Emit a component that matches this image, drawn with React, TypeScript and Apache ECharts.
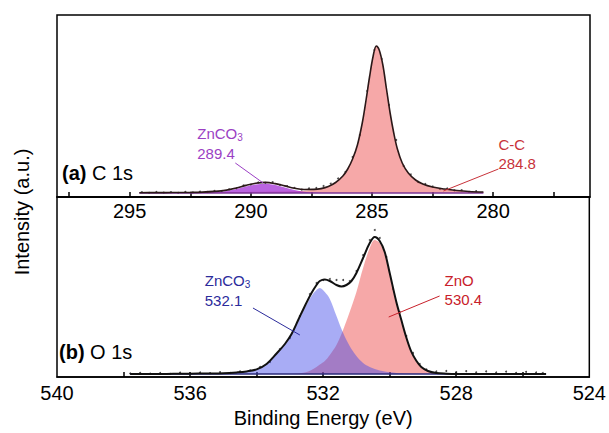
import React, { useEffect, useRef } from "react";
import * as echarts from "echarts";

// ---------- C 1s (panel a) ----------
const topE = [294.6, 294, 293.5, 293, 292.5, 292, 291.5, 291, 290.6, 290.2, 289.8, 289.4, 289.0, 288.6, 288.2, 287.8, 287.4, 287.1, 286.8, 286.5, 286.2, 286.0, 285.8, 285.6, 285.4, 285.25, 285.1, 284.95, 284.82, 284.7, 284.55, 284.4, 284.25, 284.1, 283.95, 283.75, 283.5, 283.2, 282.9, 282.5, 282, 281.5, 281, 280.4];
const topCC = [0.3, 0.4, 0.4, 0.5, 0.6, 0.7, 0.8, 0.9, 1, 1.1, 1.2, 1.3, 1.4, 1.6, 1.8, 2.3, 3.2, 4.3, 6.5, 10.5, 17, 24, 34, 48, 70, 92, 116, 137, 147, 143, 128, 104, 80, 60, 44, 30, 20, 13, 9, 6, 4, 2.5, 1.5, 1];
const topZnCO3 = [0, 0, 0, 0, 0, 0.2, 0.8, 2, 4, 6.5, 8.5, 9.3, 8, 5.5, 3, 1.2, 0.4, 0.1, 0, 0, 0, 0, 0, 0, 0, 0, 0, 0, 0, 0, 0, 0, 0, 0, 0, 0, 0, 0, 0, 0, 0, 0, 0, 0];
const topEnv = [0.3, 0.4, 0.4, 0.5, 0.6, 0.9, 1.6, 2.9, 5, 7.6, 9.7, 10.6, 9.4, 7.1, 4.8, 3.5, 3.6, 4.4, 6.5, 10.5, 17, 24, 34, 48, 70, 92, 116, 137, 147, 143, 128, 104, 80, 60, 44, 30, 20, 13, 9, 6, 4, 2.5, 1.5, 1];
const topDotE = [294.5, 294.2, 293.9, 293.6, 293.3, 293.0, 292.7, 292.4, 292.1, 291.8, 291.5, 291.2, 290.9, 290.6, 290.3, 290.0, 289.7, 289.4, 289.1, 288.8, 288.5, 288.2, 287.9, 287.6, 287.3, 287.0, 286.7, 286.4, 286.1, 285.8, 285.5, 285.2, 284.9, 284.6, 284.3, 284.0, 283.7, 283.4, 283.1, 282.8, 282.5, 282.2, 281.9, 281.6, 281.3, 281.0, 280.7];
const topDotV = [0.8, 0.2, 1.0, 0.3, 0.9, 0.2, 1.1, 0.5, 1.3, 1.0, 2.1, 2.2, 3.6, 4.6, 7.6, 8.4, 10.5, 10.0, 10.8, 8.0, 6.9, 5.2, 3.4, 4.6, 5.0, 7.0, 9.4, 14.5, 21, 36, 58, 102, 143, 134, 88, 53, 27, 18.5, 11, 9, 6.5, 4, 4.5, 2.6, 2.8, 1.2, 1.8];
const topTicks = [297.5, 295, 292.5, 290, 287.5, 285, 282.5, 280, 277.5];
const topLabels = [295, 290, 285, 280];
const TOP_BG = 4;

// ---------- O 1s (panel b) ----------
const botE = [537.8, 537, 536.5, 536, 535.5, 535, 534.6, 534.3, 534.0, 533.7, 533.4, 533.15, 532.95, 532.75, 532.55, 532.35, 532.2, 532.1, 531.95, 531.8, 531.6, 531.45, 531.3, 531.15, 531.0, 530.8, 530.6, 530.45, 530.3, 530.15, 530.0, 529.8, 529.65, 529.5, 529.35, 529.2, 529.05, 528.85, 528.6, 528.3, 528, 527.5, 527, 526.5, 526, 525.3];
const botZnCO3 = [0, 0, 0.1, 0.2, 0.3, 0.6, 1.5, 2.5, 4.5, 10, 20, 30, 40, 53, 66, 78, 84, 86, 82, 75, 58, 45, 34, 25, 18, 11, 7, 5, 3.5, 2.5, 1.7, 1.1, 0.7, 0.4, 0.3, 0.2, 0.1, 0, 0, 0, 0, 0, 0, 0, 0, 0];
const botZnO = [0, 0, 0, 0, 0, 0, 0, 0, 0, 0, 0, 0, 0, 0.5, 1.5, 4, 7, 9.5, 13, 19, 29, 40, 53, 67, 82, 106, 126, 134, 131, 120, 100, 71, 53, 36, 22, 13, 7, 3, 1, 0.3, 0, 0, 0, 0, 0, 0];
const botEnv = [0, 0, 0.2, 0.3, 0.5, 0.8, 1.6, 2.6, 4.6, 10, 20.5, 30, 40, 54, 68, 81, 89, 93, 94.5, 93, 89, 87.5, 89, 93, 101, 116, 131, 137, 133, 122, 101, 72, 54, 36.5, 22.3, 13.2, 7, 3, 1, 0.3, 0, 0, 0, 0, 0, 0];
const botDotE = [537.8, 537.5, 537.2, 536.9, 536.6, 536.3, 536.0, 535.7, 535.4, 535.1, 534.8, 534.5, 534.2, 533.9, 533.6, 533.3, 533.0, 532.7, 532.4, 532.2, 532.0, 531.8, 531.6, 531.4, 531.2, 531.0, 530.8, 530.6, 530.45, 530.3, 530.1, 529.9, 529.7, 529.5, 529.3, 529.1, 528.9, 528.6, 528.3, 528.0, 527.7, 527.4, 527.1, 526.8, 526.5, 526.2, 525.9, 525.6, 525.4];
const botDotV = [0.5, 1.2, 0.3, 1.0, 0.2, 1.3, 0.6, 1.5, 0.8, 1.8, 1.0, 2.6, 3.5, 7, 12, 25, 36, 58, 80, 91, 94, 95, 94, 94, 93, 103, 119, 134, 144, 136, 117, 85, 62, 38, 21, 10, 4.5, 2.5, 3, 1.8, 2.8, 1.6, 2.6, 1.5, 2.4, 1.2, 2.2, 1.5, 1.0];
const botTicks = [538, 536, 534, 532, 530, 528, 526];
const botLabels = [540, 536, 532, 528, 524];
const BOT_BG = 3;

const FONT = '"Liberation Sans", Arial, Helvetica, sans-serif';
const RED_FILL = "rgba(236,62,62,0.45)";
const BLUE_FILL = "rgba(62,72,232,0.45)";
const PURPLE_FILL = "rgba(160,40,212,0.72)";

const withBg = (xs: number[], vs: number[], bg: number) => xs.map((x, i) => [x, bg + vs[i]]);

const richLabel = (name: string, sub: string, val: string, color: string) => ({
  show: true,
  position: "inside",
  align: "left",
  verticalAlign: "top",
  formatter: `{a|${name}}{s|${sub}}\n{a|${val}}`,
  rich: {
    a: { fontSize: 15, color, lineHeight: 20, fontFamily: FONT },
    s: { fontSize: 10, color, lineHeight: 20, fontFamily: FONT, padding: [9, 0, 0, 0] },
  },
});

export default function App() {
  const ref = useRef<HTMLDivElement>(null);
  useEffect(() => {
    if (!ref.current) return;
    const chart = echarts.init(ref.current, undefined, { renderer: "svg" });
    const area = (name: string, xi: number, data: number[][], fill: string, bg: number) => ({
      name,
      type: "line",
      xAxisIndex: xi,
      yAxisIndex: xi,
      data,
      smooth: 0.35,
      showSymbol: false,
      symbol: "none",
      lineStyle: { width: 0 },
      areaStyle: { color: fill, origin: bg, opacity: 1 },
      silent: true,
    });
    chart.setOption({
      animation: false,
      backgroundColor: "#ffffff",
      textStyle: { fontFamily: FONT },
      grid: [
        { left: 57, top: 15, width: 533, height: 182, show: true, borderColor: "#000", borderWidth: 1.5, backgroundColor: "transparent" },
        { left: 57, top: 197, width: 533, height: 180, show: true, borderColor: "#000", borderWidth: 1.5, backgroundColor: "transparent" },
      ],
      xAxis: [
        {
          gridIndex: 0, type: "value", min: 276, max: 298, inverse: true,
          axisLine: { show: true, lineStyle: { color: "#000", width: 1.5 } },
          axisTick: { show: true, inside: true, length: 5, lineStyle: { color: "#000", width: 1.5 }, customValues: topTicks },
          axisLabel: { show: true, fontSize: 20, color: "#000", margin: 4, fontFamily: FONT, customValues: topLabels },
          splitLine: { show: false },
        },
        {
          gridIndex: 1, type: "value", min: 524, max: 540, interval: 2, inverse: true,
          axisLine: { show: true, lineStyle: { color: "#000", width: 1.5 } },
          axisTick: { show: true, inside: true, length: 5, lineStyle: { color: "#000", width: 1.5 }, customValues: botTicks },
          axisLabel: { show: true, fontSize: 20, color: "#000", margin: 6, fontFamily: FONT, customValues: botLabels },
          splitLine: { show: false },
          name: "Binding Energy (eV)", nameLocation: "middle", nameGap: 31,
          nameTextStyle: { fontSize: 20, color: "#000", fontFamily: FONT },
        },
      ],
      yAxis: [
        { gridIndex: 0, type: "value", min: 0, max: 182, axisLine: { show: false }, axisTick: { show: false }, axisLabel: { show: false }, splitLine: { show: false } },
        { gridIndex: 1, type: "value", min: 0, max: 180, axisLine: { show: false }, axisTick: { show: false }, axisLabel: { show: false }, splitLine: { show: false } },
      ],
      series: [
        area("C-C", 0, withBg(topE, topCC, TOP_BG), RED_FILL, TOP_BG),
        area("ZnCO3 (C)", 0, withBg(topE, topZnCO3, TOP_BG), PURPLE_FILL, TOP_BG),
        {
          name: "bgTop", type: "line", xAxisIndex: 0, yAxisIndex: 0, symbol: "none", silent: true,
          data: [[topE[0], TOP_BG], [topE[topE.length - 1], TOP_BG]],
          lineStyle: { color: "#7a3596", width: 1.5 },
          markLine: {
            silent: true, symbol: ["none", "none"], label: { show: false },
            data: [
              [{ coord: [290.64, 34], lineStyle: { color: "#9b3fc4", width: 1, type: "solid" } }, { coord: [289.49, 14] }],
              [{ coord: [279.78, 28], lineStyle: { color: "#c8323a", width: 1, type: "solid" } }, { coord: [282.05, 6] }],
            ],
          },
          markPoint: {
            silent: true, symbol: "circle", symbolSize: 0,
            data: [
              { coord: [292.21, 74], label: richLabel("ZnCO", "3", "289.4", "#9b3fc4") },
              { coord: [279.78, 62], label: { show: true, position: "inside", align: "left", verticalAlign: "top", formatter: "C-C\n284.8", fontSize: 15, lineHeight: 19, color: "#c8323a", fontFamily: FONT } },
            ],
          },
        },
        {
          name: "envTop", type: "line", xAxisIndex: 0, yAxisIndex: 0, symbol: "none", silent: true, smooth: 0.35,
          data: withBg(topE, topEnv, TOP_BG), lineStyle: { color: "#2b1818", width: 1.6 },
        },
        {
          name: "dataTop", type: "scatter", xAxisIndex: 0, yAxisIndex: 0, silent: true, symbolSize: 2,
          data: withBg(topDotE, topDotV, TOP_BG), itemStyle: { color: "#222" },
        },
        area("ZnO", 1, withBg(botE, botZnO, BOT_BG), RED_FILL, BOT_BG),
        area("ZnCO3 (O)", 1, withBg(botE, botZnCO3, BOT_BG), BLUE_FILL, BOT_BG),
        {
          name: "bgBot", type: "line", xAxisIndex: 1, yAxisIndex: 1, symbol: "none", silent: true,
          data: [[botE[0], BOT_BG], [botE[botE.length - 1], BOT_BG]],
          lineStyle: { color: "#2a2a78", width: 1.5 },
          markLine: {
            silent: true, symbol: ["none", "none"], label: { show: false },
            data: [
              [{ coord: [534.11, 69], lineStyle: { color: "#2b2b9b", width: 1, type: "solid" } }, { coord: [532.7, 42] }],
              [{ coord: [528.5, 81], lineStyle: { color: "#c8202a", width: 1, type: "solid" } }, { coord: [530.03, 60] }],
            ],
          },
          markPoint: {
            silent: true, symbol: "circle", symbolSize: 0,
            data: [
              { coord: [535.56, 107], label: richLabel("ZnCO", "3", "532.1", "#2b2b9b") },
              { coord: [528.35, 106], label: { show: true, position: "inside", align: "left", verticalAlign: "top", formatter: "ZnO\n530.4", fontSize: 15, lineHeight: 19, color: "#c8202a", fontFamily: FONT } },
            ],
          },
        },
        {
          name: "envBot", type: "line", xAxisIndex: 1, yAxisIndex: 1, symbol: "none", silent: true, smooth: 0.35,
          data: withBg(botE, botEnv, BOT_BG), lineStyle: { color: "#111", width: 2 },
        },
        {
          name: "dataBot", type: "scatter", xAxisIndex: 1, yAxisIndex: 1, silent: true, symbolSize: 2,
          data: withBg(botDotE, botDotV, BOT_BG), itemStyle: { color: "#222" },
        },
      ],
      graphic: [
        {
          type: "text", x: 62, y: 163, silent: true,
          style: { text: "{b|(a)} C 1s", fontSize: 20, fill: "#000", fontFamily: FONT, rich: { b: { fontSize: 20, fontWeight: "bold", fontFamily: FONT, fill: "#000" } } },
        },
        {
          type: "text", x: 59, y: 342, silent: true,
          style: { text: "{b|(b)} O 1s", fontSize: 20, fill: "#000", fontFamily: FONT, rich: { b: { fontSize: 20, fontWeight: "bold", fontFamily: FONT, fill: "#000" } } },
        },
        {
          type: "text", x: 22, y: 212, rotation: Math.PI / 2, silent: true,
          style: { text: "Intensity (a.u.)", fontSize: 20, fill: "#000", fontFamily: FONT, align: "center", verticalAlign: "middle" },
        },
      ],
    });
    return () => chart.dispose();
  }, []);
  return <div ref={ref} style={{ position: "fixed", left: 0, top: 0, width: 609, height: 433 }} />;
}
